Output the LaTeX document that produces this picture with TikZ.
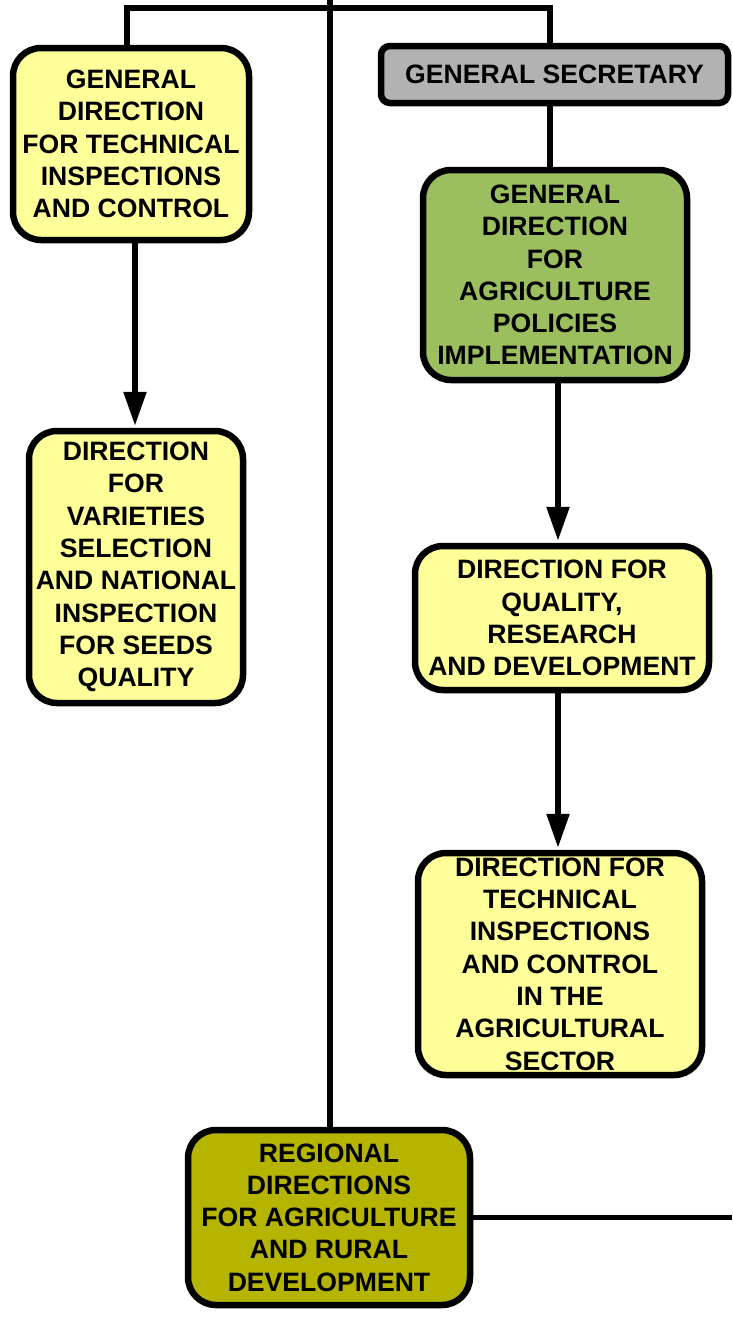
\documentclass[tikz,border=0pt]{standalone}
\usepackage{fontspec}
\setmainfont{Liberation Sans}
\usetikzlibrary{arrows.meta}
\definecolor{yel}{RGB}{255,255,153}
\definecolor{grn}{RGB}{155,190,95}
\definecolor{gry}{RGB}{178,178,178}
\definecolor{olv}{RGB}{181,180,0}
\begin{document}
\begin{tikzpicture}[x=1pt,y=-1pt,
  box/.style={draw=black, line width=6.5pt, rounded corners=28pt, inner sep=0pt,
    align=center, font=\fontsize{26.6}{32.3}\selectfont\bfseries},
  conn/.style={line width=5.5pt},
  arr/.style={line width=5.5pt, -{Triangle[length=34pt,width=22pt]}, shorten >=2pt}]
\useasboundingbox (0,0) rectangle (732,1326);
\node[box, fill=yel, minimum width=236pt, minimum height=192pt] (a) at (131,144)
  {GENERAL\\DIRECTION\\FOR TECHNICAL\\INSPECTIONS\\AND CONTROL};
\node[box, fill=yel, minimum width=214pt, minimum height=272pt] (b) at (136,567)
  {DIRECTION\\FOR\\VARIETIES\\SELECTION\\AND NATIONAL\\INSPECTION\\FOR SEEDS\\QUALITY};
\node[box, fill=gry, rounded corners=9pt, minimum width=347pt, minimum height=57pt] (g) at (554.5,74.5)
  {GENERAL SECRETARY};
\node[box, fill=grn, minimum width=264pt, minimum height=210pt] (c) at (555,275)
  {GENERAL\\DIRECTION\\FOR\\AGRICULTURE\\POLICIES\\IMPLEMENTATION};
\node[box, fill=yel, minimum width=294pt, minimum height=144pt] (d) at (562,618)
  {DIRECTION FOR\\QUALITY,\\RESEARCH\\AND DEVELOPMENT};
\node[box, fill=yel, minimum width=284pt, minimum height=222pt] (e) at (560,964)
  {DIRECTION FOR\\TECHNICAL\\INSPECTIONS\\AND CONTROL\\IN THE\\AGRICULTURAL\\SECTOR};
\node[box, fill=olv, minimum width=282pt, minimum height=175pt] (f) at (329,1217.5)
  {REGIONAL\\DIRECTIONS\\FOR AGRICULTURE\\AND RURAL\\DEVELOPMENT};
\coordinate (tl) at (127,8);
\coordinate (tr) at (550,8);
\coordinate (tc) at (330,0);
\coordinate (xa) at (135,0);
\coordinate (xc) at (558,0);
\coordinate (re) at (732,0);
\draw[conn] (a.north -| tl) -- (tl) -- (tr) -- (g.north -| tr);
\draw[conn] (tc) -- (f.north -| tc);
\draw[conn] (g.south -| tr) -- (c.north -| tr);
\draw[arr] (a.south -| xa) -- (b.north -| xa);
\draw[arr] (c.south -| xc) -- (d.north -| xc);
\draw[arr] (d.south -| xc) -- (e.north -| xc);
\draw[conn] (f.east) -- (f.east -| re);
\end{tikzpicture}
\end{document}
